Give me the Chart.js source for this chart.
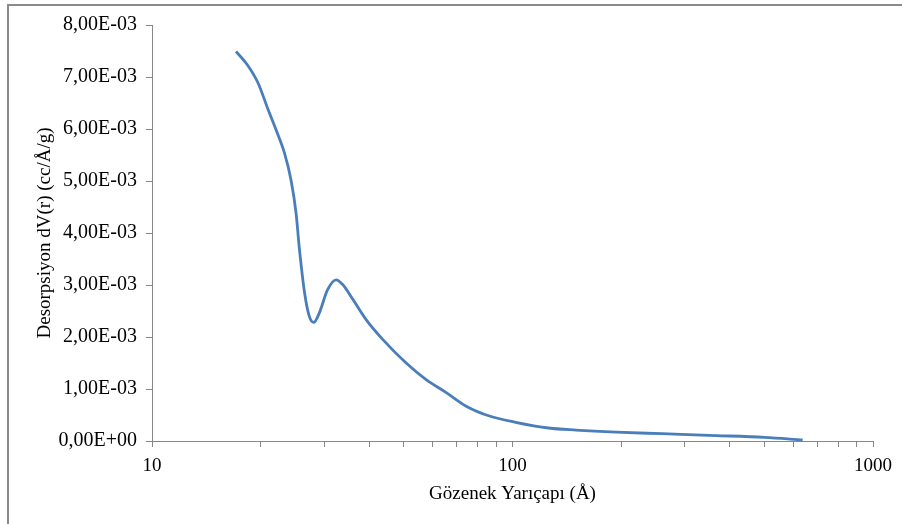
<!DOCTYPE html>
<html lang="tr">
<head>
  <meta charset="UTF-8">
  <title>Desorpsiyon dV(r)</title>
  <script src="https://cdn.jsdelivr.net/npm/chart.js@4.4.1/dist/chart.umd.min.js"></script>
  <style>
    html, body { margin: 0; padding: 0; background: #fff; }
    #wrap { width: 902px; height: 524px; }
  </style>
</head>
<body>
  <div id="wrap"><canvas id="myChart" width="902" height="524"></canvas></div>

  <script>
    // pore radius (Å) and desorption dV(r) (cc/Å/g, x1e-3)
    const radius = [17.1, 18.4, 19.7, 21.0, 22.1, 23.3, 24.3, 25.1, 25.6, 26.5, 27.3, 28.1, 29.1,
                    30.7, 32.4, 33.8, 36.1, 39.3, 43.7, 50.7, 57.6, 65.5, 74.4, 86.3, 102, 126,
                    150, 194, 260, 367, 500, 638];
    const dV = [7.49, 7.23, 6.88, 6.37, 5.98, 5.54, 5.02, 4.38, 3.74, 2.85, 2.40, 2.28, 2.46,
                2.91, 3.10, 3.01, 2.72, 2.33, 1.95, 1.50, 1.18, 0.93, 0.67, 0.48, 0.36, 0.25,
                0.21, 0.17, 0.14, 0.105, 0.07, 0.02];
    const xTicks = [10, 20, 30, 40, 50, 60, 70, 80, 90, 100, 200, 300, 400, 500, 600, 700, 800, 900, 1000];
    const xLabels = [10, 100, 1000];

    const axisGray = '#868686';
    const family = '"Liberation Serif", "Times New Roman", serif';
    const font = { family: family, size: 19 };

    // Excel style: 8,00E-03
    function sci(v) {
      const [m, e] = v.toExponential(2).split('e');
      const n = parseInt(e, 10);
      const exp = (n < 0 ? '-' : '+') + String(Math.abs(n)).padStart(2, '0');
      return m.replace('.', ',') + 'E' + exp;
    }

    const frame = {
      id: 'frame',
      beforeDraw(chart) {
        const c = chart.ctx;
        c.save();
        c.fillStyle = '#fff';
        c.fillRect(0, 0, chart.width, chart.height);
        c.strokeStyle = '#8a8a8a';
        c.lineWidth = 2;
        c.beginPath();
        c.moveTo(8, chart.height + 2);
        c.lineTo(8, 5);
        c.lineTo(chart.width + 2, 5);
        c.stroke();
        c.restore();
      }
    };

    const ctx = document.getElementById('myChart').getContext('2d');
    new Chart(ctx, {
      type: 'line',
      data: {
        datasets: [{
          data: radius.map((r, i) => ({ x: r, y: dV[i] * 1e-3 })),
          borderColor: '#4a7ebb',
          borderWidth: 2.8,
          pointRadius: 0,
          fill: false,
          cubicInterpolationMode: 'monotone'
        }]
      },
      options: {
        responsive: false,
        animation: false,
        layout: { padding: { left: 30, right: 29, top: 25, bottom: 15 } },
        plugins: { legend: { display: false }, tooltip: { enabled: false } },
        scales: {
          x: {
            type: 'logarithmic',
            min: 10,
            max: 1000,
            afterFit(scale) { scale.height = 68; },
            afterBuildTicks(scale) { scale.ticks = xTicks.map(v => ({ value: v })); },
            border: { color: axisGray, width: 1 },
            grid: { drawOnChartArea: false, drawTicks: true, tickLength: 6, color: axisGray },
            ticks: {
              autoSkip: false,
              maxRotation: 0,
              padding: 8,
              color: '#000',
              font: font,
              callback: v => xLabels.includes(v) ? String(v) : ''
            },
            title: { display: true, text: 'Gözenek Yarıçapı (Å)', color: '#000', font: font }
          },
          y: {
            min: 0,
            max: 0.008,
            afterFit(scale) { scale.width = 122; },
            border: { color: axisGray, width: 1 },
            grid: { drawOnChartArea: false, drawTicks: true, tickLength: 6, color: axisGray },
            ticks: {
              stepSize: 0.001,
              padding: 9,
              color: '#000',
              font: { family: family, size: 20 },
              callback: v => sci(v)
            },
            title: { display: true, text: 'Desorpsiyon dV(r) (cc/Å/g)', color: '#000', font: font }
          }
        }
      },
      plugins: [frame]
    });
  </script>
</body>
</html>
